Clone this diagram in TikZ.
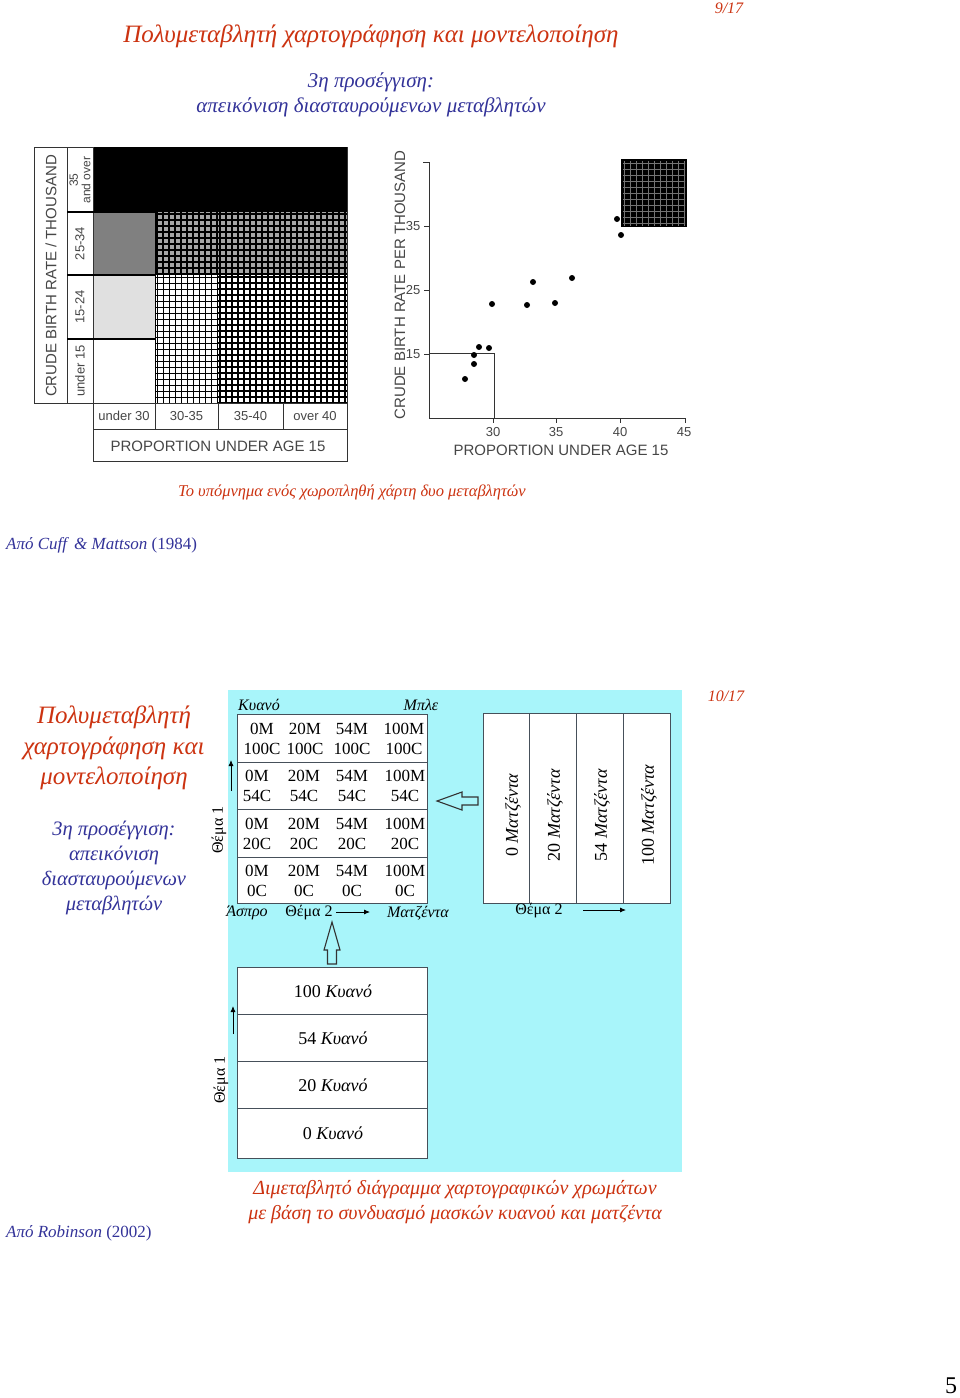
\documentclass[tikz,border=0pt]{standalone}
\usepackage{fontspec}
\setmainfont{Liberation Serif}
\newfontfamily\chartfont{Liberation Sans}
\usetikzlibrary{arrows.meta}
\definecolor{ttlred}{RGB}{204,51,17}
\definecolor{ttlblue}{RGB}{51,51,153}
\definecolor{bgcyan}{RGB}{168,245,250}
\definecolor{boxline}{RGB}{70,80,90}
\definecolor{chartgray}{RGB}{70,70,70}
\newcommand\fsz[2]{\fontsize{#1}{#2}\selectfont}
% x1 y1 x2 y2 spacing linewidth fill
\newcommand\gridcell[7]{%
  \fill[#7] (#1,#2) rectangle (#3,#4);
  \begin{scope}
    \clip (#1,#2) rectangle (#3,#4);
    \foreach \k in {0,...,22}{
      \draw[line width=#6] ({#1+2+\k*#5},#2) -- ({#1+2+\k*#5},#4);
      \draw[line width=#6] (#1,{#2+2+\k*#5}) -- (#3,{#2+2+\k*#5});
    }
  \end{scope}}
\tikzset{
  every node/.style={inner sep=0pt},
  redbig/.style={text=ttlred, font=\fsz{25}{30}\itshape},
  bluemid/.style={text=ttlblue, font=\fsz{21}{25}\itshape},
  redsmall/.style={text=ttlred, font=\fsz{16}{19}\itshape},
  chartlbl/.style={text=chartgray, font=\chartfont\fsz{15}{17}},
  charttick/.style={text=chartgray, font=\chartfont\fsz{13}{15}},
  cellbox/.style={draw=boxline, line width=0.9pt, fill=white},
  cellline/.style={draw=boxline, line width=0.9pt},
  celltxt/.style={font=\fsz{17}{20}, align=center},
  bandtxt/.style={font=\fsz{18}{21}},
  themetxt/.style={font=\fsz{16}{19}},
  smallarrow/.style={-{Latex[length=6pt,width=5pt]}, line width=0.8pt},
  hollowarrow/.style={draw=black!80, line width=1.1pt, line join=miter},
  dot/.style={circle, fill=black, minimum size=6pt},
}
\begin{document}
\begin{tikzpicture}[x=1pt,y=-1pt]
\fill[white] (0,0) rectangle (960,1398);
\useasboundingbox (0,0) rectangle (960,1398);

% ---------------- top slide ----------------
\node[redsmall] (pgA) at (729,8) {9/17};
\node[redbig] (titleA) at (371,36) {Πολυμεταβλητή χαρτογράφηση και μοντελοποίηση};
\node[bluemid] (subA1) at (371,82) {3η προσέγγιση:};
\node[bluemid] (subA2) at (371,107) {απεικόνιση διασταυρούμενων μεταβλητών};

% left legend chart
\fill[black] (93,147) rectangle (347,212);
\fill[black!50] (93,212) rectangle (155,275);
\fill[black!12] (93,275) rectangle (155,339);
\gridcell{155}{212}{218}{275}{6}{1.6pt}{black!35}
\gridcell{218}{212}{283}{275}{6}{1.9pt}{black!35}
\gridcell{283}{212}{347}{275}{6}{2.3pt}{black!35}
\gridcell{155}{275}{218}{403}{6}{0.9pt}{white}
\gridcell{218}{275}{283}{403}{6}{1.3pt}{white}
\gridcell{283}{275}{347}{403}{6}{2.0pt}{white}
\draw[line width=0.9pt, black!80] (34,147) rectangle (93,403);
\draw[line width=0.9pt, black!80] (67,147) -- (67,403);
\draw[line width=1.3pt] (67,212) -- (155,212);
\draw[line width=1.3pt] (67,275) -- (155,275);
\draw[line width=1.3pt] (67,339) -- (155,339);
\draw[line width=1pt] (155,212) -- (155,403);
\draw[line width=0.9pt, black!80] (93,403) rectangle (347,429);
\draw[line width=0.9pt, black!80] (93,429) rectangle (347,461);
\draw[line width=0.9pt, black!80] (155,403) -- (155,429) (218,403) -- (218,429) (283,403) -- (283,429);
\draw[line width=0.9pt, black!80] (347,147) -- (347,403);

\node[chartlbl, rotate=90] (cbrA) at (51,276) {CRUDE BIRTH RATE / THOUSAND};
\node[charttick, rotate=90, align=center, font=\chartfont\fsz{12}{12.5}] (lb35) at (80,180) {35\\and over};
\node[charttick, rotate=90] (lb25) at (80,243.5) {25-34};
\node[charttick, rotate=90] (lb15) at (80,307) {15-24};
\node[charttick, rotate=90] (lbu15) at (80,371) {under 15};
\node[charttick] (bu30) at (124,416) {under 30};
\node[charttick] (b3035) at (186.5,416) {30-35};
\node[charttick] (b3540) at (250.5,416) {35-40};
\node[charttick] (bo40) at (315,416) {over 40};
\node[chartlbl] (bprop) at (218,446) {PROPORTION UNDER AGE 15};

% scatter plot
\draw[line width=0.9pt, black!80] (423,162) -- (429,162) -- (429,418) -- (685,418);
\draw[line width=0.9pt, black!80] (424,226) -- (429,226) (424,290) -- (429,290) (424,354) -- (429,354);
\draw[line width=0.9pt, black!80] (493,418) -- (493,423) (556,418) -- (556,423) (620,418) -- (620,423) (685,418) -- (685,423);
\draw[line width=0.9pt, black!80] (429,353) -- (494,353) -- (494,418);
\fill[black] (621,159) rectangle (687,227);
\begin{scope}
  \clip (623,161) rectangle (685,225);
  \foreach \k in {0,...,11}{
    \draw[black!55, line width=0.5pt] ({624+\k*6},159) -- ({624+\k*6},227);
    \draw[black!55, line width=0.5pt] (621,{163+\k*6}) -- (687,{163+\k*6});
  }
\end{scope}
\node[charttick] (yt35) at (413,226) {35};
\node[charttick] (yt25) at (413,290) {25};
\node[charttick] (yt15) at (413,354) {15};
\node[charttick] (xt30) at (493,432) {30};
\node[charttick] (xt35) at (556,432) {35};
\node[charttick] (xt40) at (620,432) {40};
\node[charttick] (xt45) at (684,432) {45};
\node[chartlbl, rotate=90] (ylab) at (400,285) {CRUDE BIRTH RATE PER THOUSAND};
\node[chartlbl] (xlab) at (561,450) {PROPORTION UNDER AGE 15};
\foreach \px/\py [count=\i] in {465/379, 474/355, 474/364, 479/347, 489/348, 492/304, 527/305, 533/282, 555/303, 572/278, 617/219, 621/235}
  \node[dot] (pt\i) at (\px,\py) {};

\node[text=ttlred, font=\fsz{16.5}{19}\itshape] (capA) at (352,492) {Το υπόμνημα ενός χωροπληθή χάρτη δυο μεταβλητών};
\node[text=ttlblue, font=\fsz{17}{20}, anchor=west] (srcA) at (6,545) {\textit{Από Cuff \,\& Mattson} (1984)};

% ---------------- bottom slide ----------------
\node[redsmall] (pgB) at (726,696) {10/17};
\fill[bgcyan] (228,690) rectangle (682,1172);

\node[redbig, align=center, font=\fsz{25}{30.5}\itshape] (titleB) at (114,748) {Πολυμεταβλητή\\χαρτογράφηση και\\μοντελοποίηση};
\node[bluemid, align=center, font=\fsz{20.5}{25}\itshape] (subB) at (114,868) {3η προσέγγιση:\\απεικόνιση\\διασταυρούμενων\\μεταβλητών};

% grid 1 (cyan x magenta)
\draw[cellbox] (237,714) rectangle (427,903);
\draw[cellline] (237,762) -- (427,762) (237,809) -- (427,809) (237,857) -- (427,857);
\node[themetxt, font=\fsz{16}{19}\itshape] (kyA) at (259,705) {Κυανό};
\node[themetxt, font=\fsz{16}{19}\itshape] (mple) at (421,705) {Μπλε};
\node[celltxt] (c11) at (262,739) {0M\\100C};
\node[celltxt] (c12) at (305,739) {20M\\100C};
\node[celltxt] (c13) at (352,739) {54M\\100C};
\node[celltxt] (c14) at (404,739) {100M\\100C};
\foreach \r/\yy/\cc in {2/786/54C, 3/834/20C, 4/881/0C}{
  \node[celltxt] (c\r1) at (257,\yy) {0M\\\cc};
  \node[celltxt] (c\r2) at (304,\yy) {20M\\\cc};
  \node[celltxt] (c\r3) at (352,\yy) {54M\\\cc};
  \node[celltxt] (c\r4) at (405,\yy) {100M\\\cc};
}
\node[themetxt, font=\fsz{16}{19}\itshape] (aspro) at (247,913) {Άσπρο};
\node[themetxt] (th2A) at (309,913) {Θέμα 2};
\coordinate (th2Aa) at (336,912);
\coordinate (th2Ab) at (370,912);
\draw[smallarrow] (th2Aa) -- (th2Ab);
\node[themetxt, font=\fsz{16}{19}\itshape] (matzA) at (418,913) {Ματζέντα};
\node[themetxt, rotate=90] (th1A) at (219,830) {Θέμα 1};
\coordinate (th1Aa) at (231,791);
\coordinate (th1Ab) at (231,760);
\draw[smallarrow] (th1Aa) -- (th1Ab);

% grid 2 (magenta)
\draw[cellbox] (483,713) rectangle (670,903);
\draw[cellline] (529,713) -- (529,903) (576,713) -- (576,903) (623,713) -- (623,903);
\node[bandtxt, rotate=90] (m0) at (513,815) {0 \textit{Ματζέντα}};
\node[bandtxt, rotate=90] (m20) at (555,815) {20 \textit{Ματζέντα}};
\node[bandtxt, rotate=90] (m54) at (602,815) {54 \textit{Ματζέντα}};
\node[bandtxt, rotate=90] (m100) at (649,815) {100 \textit{Ματζέντα}};
\node[themetxt] (th2B) at (539,911) {Θέμα 2};
\coordinate (th2Ba) at (583,910);
\coordinate (th2Bb) at (626,910);
\draw[smallarrow] (th2Ba) -- (th2Bb);

% hollow arrows
\draw[hollowarrow] (437,801) -- (462,792) -- (462,797) -- (478,797) -- (478,805) -- (462,805) -- (462,810) -- cycle;
\draw[hollowarrow] (332,922) -- (340,950) -- (336.5,950) -- (336.5,964) -- (327.5,964) -- (327.5,950) -- (324,950) -- cycle;

% grid 3 (cyan)
\draw[cellbox] (237,967) rectangle (427,1158);
\draw[cellline] (237,1014) -- (427,1014) (237,1061) -- (427,1061) (237,1108) -- (427,1108);
\node[bandtxt] (k100) at (333,991) {100 \textit{Κυανό}};
\node[bandtxt] (k54) at (333,1038) {54 \textit{Κυανό}};
\node[bandtxt] (k20) at (333,1085) {20 \textit{Κυανό}};
\node[bandtxt] (k0) at (333,1133) {0 \textit{Κυανό}};
\node[themetxt, rotate=90] (th1B) at (221,1080) {Θέμα 1};
\coordinate (th1Ba) at (233,1034);
\coordinate (th1Bb) at (233,1006);
\draw[smallarrow] (th1Ba) -- (th1Bb);

\node[text=ttlred, font=\fsz{20}{25}\itshape, align=center] (capB) at (455,1202) {Διμεταβλητό διάγραμμα χαρτογραφικών χρωμάτων\\με βάση το συνδυασμό μασκών κυανού και ματζέντα};
\node[text=ttlblue, font=\fsz{17}{20}, anchor=west] (srcB) at (6,1233) {\textit{Από Robinson} (2002)};
\node[font=\fsz{24}{28}] (pnum) at (951,1386) {5};
\end{tikzpicture}
\end{document}
